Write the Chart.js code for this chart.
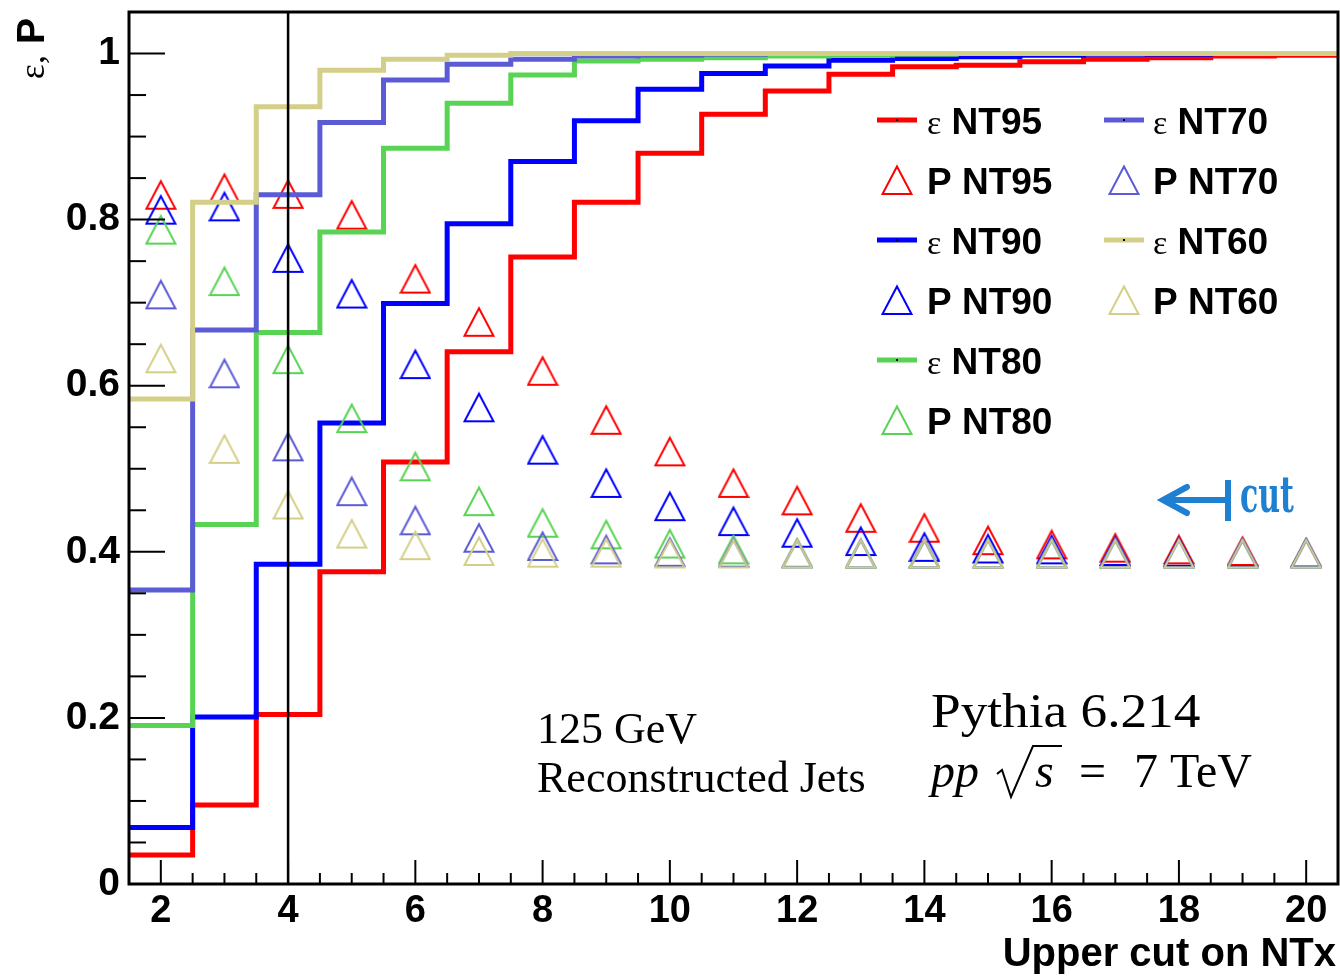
<!DOCTYPE html>
<html>
<head>
<meta charset="utf-8">
<title>Efficiency and purity vs upper NTx cut</title>
<script src="https://cdn.jsdelivr.net/npm/chart.js@4.4.1/dist/chart.umd.min.js"></script>
<style>
  html, body { margin: 0; padding: 0; background: #ffffff; }
  canvas { display: block; }
</style>
</head>
<body>
<canvas id="chart" width="1340" height="976"></canvas>
<script>
// Upper cut on NTx (bin centres)
const ntxCuts = [2, 3, 4, 5, 6, 7, 8, 9, 10, 11, 12, 13, 14, 15, 16, 17, 18, 19, 20];

// Efficiency (epsilon) per cut value
const effNT95 = [0.035, 0.095, 0.204, 0.376, 0.508, 0.641, 0.755, 0.821, 0.880, 0.927, 0.955, 0.975, 0.984, 0.986, 0.990, 0.993, 0.995, 0.997, 0.998];
const effNT90 = [0.068, 0.201, 0.385, 0.555, 0.699, 0.795, 0.870, 0.919, 0.957, 0.976, 0.985, 0.992, 0.994, 0.996, 0.998, 0.999, 0.999, 1.000, 1.000];
const effNT80 = [0.191, 0.433, 0.664, 0.785, 0.886, 0.940, 0.974, 0.991, 0.993, 0.995, 0.997, 0.998, 0.999, 1.000, 1.000, 1.000, 1.000, 1.000, 1.000];
const effNT70 = [0.354, 0.667, 0.830, 0.917, 0.968, 0.987, 0.993, 0.997, 0.998, 0.999, 1.000, 1.000, 1.000, 1.000, 1.000, 1.000, 1.000, 1.000, 1.000];
const effNT60 = [0.584, 0.821, 0.936, 0.980, 0.993, 0.998, 1.000, 1.000, 1.000, 1.000, 1.000, 1.000, 1.000, 1.000, 1.000, 1.000, 1.000, 1.000, 1.000];

// Purity (P) per cut value
const purNT95 = [0.830, 0.838, 0.831, 0.806, 0.729, 0.677, 0.618, 0.559, 0.521, 0.483, 0.462, 0.441, 0.429, 0.414, 0.409, 0.405, 0.403, 0.401, 0.399];
const purNT90 = [0.812, 0.816, 0.754, 0.711, 0.626, 0.574, 0.523, 0.483, 0.455, 0.437, 0.423, 0.413, 0.406, 0.404, 0.403, 0.401, 0.400, 0.399, 0.399];
const purNT80 = [0.788, 0.726, 0.632, 0.561, 0.503, 0.461, 0.435, 0.421, 0.410, 0.403, 0.399, 0.398, 0.398, 0.398, 0.398, 0.398, 0.398, 0.398, 0.398];
const purNT70 = [0.710, 0.615, 0.527, 0.473, 0.438, 0.417, 0.407, 0.403, 0.400, 0.399, 0.398, 0.398, 0.398, 0.398, 0.398, 0.398, 0.398, 0.398, 0.398];
const purNT60 = [0.633, 0.524, 0.457, 0.422, 0.408, 0.401, 0.399, 0.399, 0.398, 0.398, 0.398, 0.398, 0.398, 0.398, 0.398, 0.398, 0.398, 0.398, 0.398];

const seriesNames = ['NT95', 'NT90', 'NT80', 'NT70', 'NT60'];
const seriesColors = ['#ff0000', '#0000ff', '#59d354', '#5b5bd6', '#d4cf88'];
const effSeries = [effNT95, effNT90, effNT80, effNT70, effNT60];
const purSeries = [purNT95, purNT90, purNT80, purNT70, purNT60];

// Axis ticks
const xTickValues = [2, 4, 6, 8, 10, 12, 14, 16, 18, 20];
const xTickLabels = ['2', '4', '6', '8', '10', '12', '14', '16', '18', '20'];
const yTickValues = [0, 0.2, 0.4, 0.6, 0.8, 1];
const yTickLabels = ['0', '0.2', '0.4', '0.6', '0.8', '1'];

// Chosen working point
const cutPosition = 4;

const SANS = "'Liberation Sans', Arial, Helvetica, sans-serif";
const SERIF = "'Liberation Serif', 'Times New Roman', serif";

// Open up-triangle marker
function triangleMarker(color) {
  const c = document.createElement('canvas');
  c.width = 32; c.height = 32;
  const g = c.getContext('2d');
  g.strokeStyle = color;
  g.lineWidth = 2;
  g.lineJoin = 'miter';
  g.beginPath();
  g.moveTo(16, 2.5);
  g.lineTo(30.5, 30);
  g.lineTo(1.5, 30);
  g.closePath();
  g.stroke();
  return c;
}
const markers = seriesColors.map(triangleMarker);

// Histogram outline: left bin edges plus the final right edge
function histogramPoints(values) {
  const pts = ntxCuts.map((c, i) => ({ x: c - 0.5, y: values[i] }));
  pts.push({ x: ntxCuts[ntxCuts.length - 1] + 0.5, y: values[values.length - 1] });
  return pts;
}

const datasets = [];
seriesNames.forEach((name, s) => {
  datasets.push({
    label: '\u03b5 ' + name,
    data: histogramPoints(effSeries[s]),
    borderColor: seriesColors[s],
    borderWidth: 5,
    stepped: 'before',
    pointRadius: 0,
    pointHoverRadius: 0,
    fill: false,
    tension: 0
  });
  datasets.push({
    label: 'P ' + name,
    data: ntxCuts.map((c, i) => ({ x: c, y: purSeries[s][i] })),
    showLine: false,
    borderColor: seriesColors[s],
    backgroundColor: 'rgba(0,0,0,0)',
    pointStyle: markers[s],
    pointRadius: 15,
    pointHoverRadius: 15
  });
});
// later datasets are painted on top
datasets.forEach((d, i) => { d.order = 100 - i; });

function zeroPadding(scale) {
  scale.paddingTop = 0; scale.paddingBottom = 0;
  scale.paddingLeft = 0; scale.paddingRight = 0;
}

const decorations = {
  id: 'decorations',
  afterDatasetsDraw(chart) {
    const { ctx, chartArea: a, scales: { x, y } } = chart;
    ctx.save();

    // working-point line
    ctx.strokeStyle = '#000';
    ctx.lineWidth = 2.5;
    const cx = x.getPixelForValue(cutPosition);
    ctx.beginPath();
    ctx.moveTo(cx, a.bottom);
    ctx.lineTo(cx, a.top);
    ctx.stroke();

    // inward tick marks
    ctx.lineWidth = 2;
    for (let k = 3; k <= 41; k++) {
      const v = k / 2;
      const px = x.getPixelForValue(v);
      const len = (k % 4 === 0) ? 24 : 11;
      ctx.beginPath();
      ctx.moveTo(px, a.bottom);
      ctx.lineTo(px, a.bottom - len);
      ctx.stroke();
    }
    for (let k = 0; k <= 21; k++) {
      const py = y.getPixelForValue(k * 0.05);
      const len = (k % 4 === 0) ? 36 : 17;
      ctx.beginPath();
      ctx.moveTo(a.left, py);
      ctx.lineTo(a.left + len, py);
      ctx.stroke();
    }

    // frame
    ctx.lineWidth = 3;
    ctx.strokeRect(a.left, a.top, a.right - a.left, a.bottom - a.top);
    ctx.restore();
  },
  afterDraw(chart) {
    const { ctx } = chart;
    ctx.save();
    ctx.fillStyle = '#000';
    ctx.textBaseline = 'alphabetic';

    // axis titles
    ctx.font = 'bold 40px ' + SANS;
    ctx.textAlign = 'right';
    ctx.fillText('Upper cut on NTx', 1336, 966);

    ctx.save();
    ctx.translate(44, 18);
    ctx.rotate(-Math.PI / 2);
    ctx.textAlign = 'right';
    ctx.font = 'bold 39px ' + SANS;
    ctx.fillText('P', 0, 0);
    const wP = ctx.measureText('P').width;
    ctx.font = '36px ' + SERIF;
    ctx.fillText('\u03b5, ', -wP - 2, 0);
    ctx.restore();

    // legend
    ctx.textAlign = 'left';
    seriesNames.forEach((name, s) => {
      const col = s < 3 ? 0 : 1;
      const row = (s < 3 ? s : s - 3) * 2;
      const symX = col === 0 ? 897 : 1124;
      const txtX = col === 0 ? 927 : 1153;
      const yE = 120 + row * 60;
      const yP = yE + 60;

      ctx.strokeStyle = seriesColors[s];
      ctx.lineWidth = 5;
      ctx.beginPath();
      ctx.moveTo(symX - 20, yE);
      ctx.lineTo(symX + 20, yE);
      ctx.stroke();
      ctx.fillStyle = '#000';
      ctx.fillRect(symX - 1, yE - 1, 2, 2);

      ctx.font = '34px ' + SERIF;
      ctx.fillText('\u03b5', txtX, yE + 14);
      const wE = ctx.measureText('\u03b5').width;
      ctx.font = 'bold 37px ' + SANS;
      ctx.fillText(' ' + name, txtX + wE, yE + 14);

      ctx.drawImage(markers[s], symX - 16, yP - 16);
      ctx.fillText('P ' + name, txtX, yP + 14);
    });

    // sample description
    ctx.font = '44px ' + SERIF;
    ctx.fillText('125 GeV', 537, 743);
    ctx.fillText('Reconstructed Jets', 537, 792);

    ctx.save();
    ctx.translate(931, 727);
    ctx.scale(1.11, 1);
    ctx.font = '48px ' + SERIF;
    ctx.fillText('Pythia 6.214', 0, 0);
    ctx.restore();

    ctx.font = 'italic 48px ' + SERIF;
    ctx.fillText('pp', 931, 787);
    ctx.fillText('s', 1035, 787);
    ctx.strokeStyle = '#000';
    ctx.lineWidth = 2;
    ctx.lineJoin = 'miter';
    ctx.beginPath();
    ctx.moveTo(997, 774);
    ctx.lineTo(1002, 770);
    ctx.lineTo(1011, 797);
    ctx.lineTo(1033, 746);
    ctx.lineTo(1062, 746);
    ctx.stroke();
    ctx.font = '48px ' + SERIF;
    ctx.fillText('=', 1079, 787);
    ctx.fillText('7 TeV', 1134, 787);

    // cut direction marker
    const blue = '#1f7fd0';
    ctx.strokeStyle = blue;
    ctx.lineCap = 'round';
    ctx.lineWidth = 6;
    ctx.beginPath();
    ctx.moveTo(1164, 500); ctx.lineTo(1226, 500);
    ctx.moveTo(1187, 487); ctx.lineTo(1163, 500); ctx.lineTo(1187, 513);
    ctx.stroke();
    ctx.lineCap = 'butt';
    ctx.beginPath();
    ctx.moveTo(1228, 480); ctx.lineTo(1228, 521);
    ctx.stroke();
    ctx.save();
    ctx.translate(1240, 512);
    ctx.scale(0.6, 1);
    ctx.fillStyle = blue;
    ctx.font = "bold 50px 'DejaVu Serif', serif";
    ctx.fillText('cut', 0, 0);
    ctx.restore();

    ctx.restore();
  }
};

new Chart(document.getElementById('chart').getContext('2d'), {
  type: 'line',
  data: { datasets },
  options: {
    responsive: false,
    animation: false,
    devicePixelRatio: 1,
    events: [],
    layout: { autoPadding: false, padding: { top: 12, right: 2, left: 0, bottom: 0 } },
    plugins: { legend: { display: false }, tooltip: { enabled: false } },
    scales: {
      x: {
        type: 'linear',
        min: 1.5,
        max: 20.5,
        grid: { display: false, drawTicks: false },
        border: { display: false },
        afterBuildTicks(scale) { scale.ticks = xTickValues.map(v => ({ value: v })); },
        afterFit(scale) { scale.height = 92; zeroPadding(scale); },
        ticks: {
          padding: 5,
          autoSkip: false,
          maxRotation: 0,
          color: '#000',
          font: { family: SANS, size: 38, weight: 'bold' },
          callback(v) { const i = xTickValues.indexOf(v); return i >= 0 ? xTickLabels[i] : ''; }
        }
      },
      y: {
        type: 'linear',
        min: 0,
        max: 1.05,
        grid: { display: false, drawTicks: false },
        border: { display: false },
        afterBuildTicks(scale) { scale.ticks = yTickValues.map(v => ({ value: v })); },
        afterFit(scale) { scale.width = 129; zeroPadding(scale); },
        ticks: {
          padding: 9,
          autoSkip: false,
          color: '#000',
          font: { family: SANS, size: 39, weight: 'bold' },
          callback(v) { const i = yTickValues.indexOf(v); return i >= 0 ? yTickLabels[i] : ''; }
        }
      }
    }
  },
  plugins: [decorations]
});
</script>
</body>
</html>
